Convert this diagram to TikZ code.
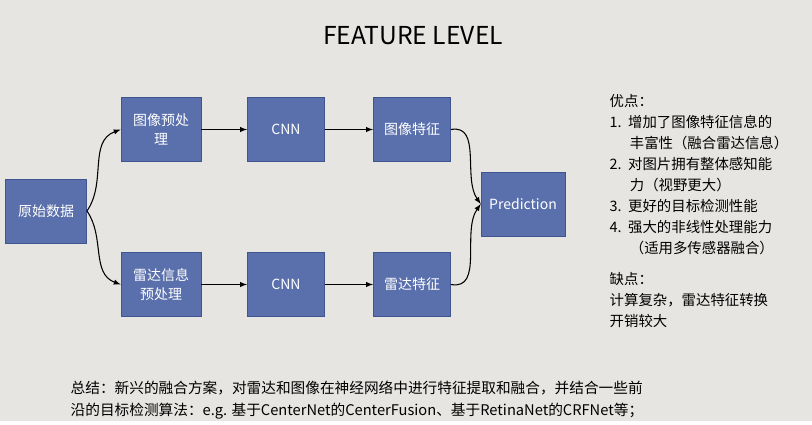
\documentclass[tikz,border=0pt]{standalone}
\usepackage{fontspec}
\setmainfont{Noto Sans CJK SC}
\usepackage{tikz}

\definecolor{boxblue}{HTML}{5A70AC}
\definecolor{boxline}{HTML}{3F5590}
\definecolor{bggrey}{HTML}{E7E5E2}

\tikzset{
    blockbox/.style={draw=boxline, fill=boxblue, text=white, minimum width=60pt, minimum height=48pt, align=center, font=\fontsize{10.5}{14}\selectfont, inner sep=1pt},
    flow/.style={-latex, thick},
    note/.style={anchor=north west, align=left, font=\fontsize{10.8}{15.7}\selectfont}
}

\begin{document}
\begin{tikzpicture}[x=0.75pt, y=-0.75pt]
    % Background
    \fill[bggrey] (0, 0) rectangle (812, 421);

    % Title
    \node (title) at (413, 36) {\fontsize{18.5}{22}\selectfont FEATURE LEVEL};

    % Blocks
    \node[blockbox, minimum width=61pt] (raw) at (46, 211) {原始数据};
    \node[blockbox] (imgpre) at (161, 129.5) {图像预处\\理};
    \node[blockbox, minimum width=58pt] (cnnA) at (286, 129.5) {CNN};
    \node[blockbox, minimum width=58pt] (imgfeat) at (412, 129.5) {图像特征};
    \node[blockbox] (radpre) at (161, 284.5) {雷达信息\\预处理};
    \node[blockbox, minimum width=58pt] (cnnB) at (286, 284.5) {CNN};
    \node[blockbox, minimum width=58pt] (radfeat) at (412, 284.5) {雷达特征};
    \node[blockbox, minimum width=63pt] (pred) at (523, 204) {Prediction};

    % Connectors
    \draw[flow] (raw.east) to[out=55, in=200] (imgpre.west);
    \draw[flow] (raw.east) to[out=-55, in=160] (radpre.west);
    \draw[flow] (imgpre) -- (cnnA);
    \draw[flow] (cnnA) -- (imgfeat);
    \draw[flow] (radpre) -- (cnnB);
    \draw[flow] (cnnB) -- (radfeat);
    \draw[flow] (imgfeat.east) to[out=10, in=125] (pred.west);
    \draw[flow] (radfeat.east) to[out=-10, in=-125] (pred.west);

    % Pros and cons
    \node[note] (pros) at (605, 90) {优点：\\
        1.\ \ 增加了图像特征信息的\\
        \hspace*{1.4em}丰富性（融合雷达信息）\\
        2.\ \ 对图片拥有整体感知能\\
        \hspace*{1.4em}力（视野更大）\\
        3.\ \ 更好的目标检测性能\\
        4.\ \ 强大的非线性处理能力\\
        \hspace*{1.4em}（适用多传感器融合）\\[8pt]
        缺点：\\
        计算复杂，雷达特征转换\\
        开销较大};

    % Summary
    \node[note, font=\fontsize{11}{17}\selectfont] (summary) at (66, 376) {总结：新兴的融合方案，对雷达和图像在神经网络中进行特征提取和融合，并结合一些前\\
        沿的目标检测算法：e.g. 基于CenterNet的CenterFusion、基于RetinaNet的CRFNet等；};
\end{tikzpicture}
\end{document}
